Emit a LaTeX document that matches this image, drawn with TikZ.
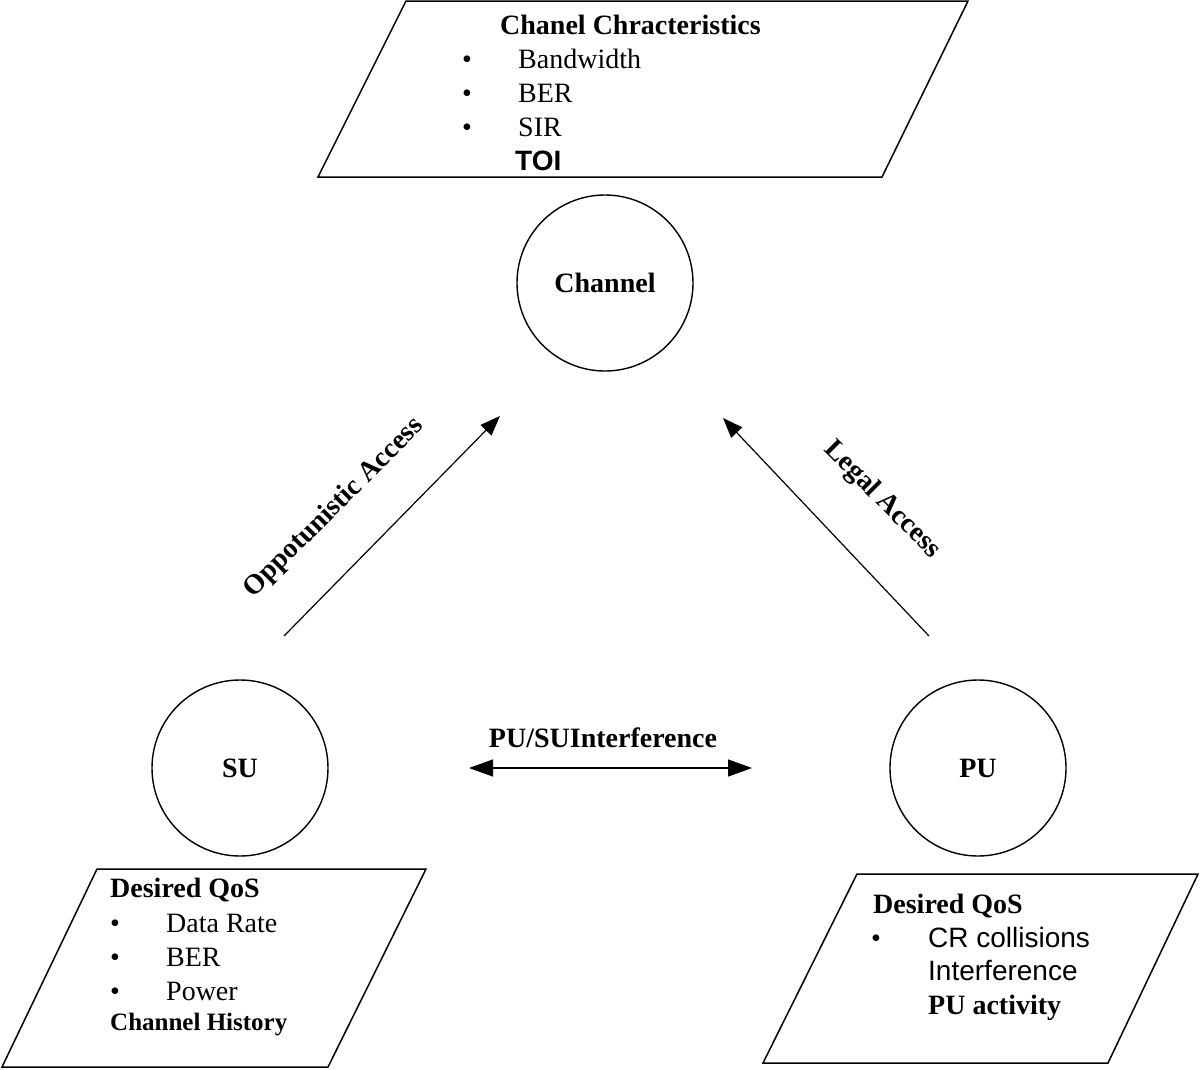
\documentclass[tikz,border=0pt]{standalone}
\usepackage{fontspec}
\setmainfont{Liberation Serif}
\setsansfont{Liberation Sans}
\usetikzlibrary{arrows.meta, positioning}
\newcommand{\txtsize}{\fontsize{28}{34}\selectfont}
\newcommand{\smallsize}{\fontsize{25}{30}\selectfont}
\tikzset{
  unit/.style={draw, circle, minimum size=176pt, inner sep=0pt, line width=1.4pt, font=\txtsize\bfseries},
  acc/.style={line width=1.2pt, -{Triangle[length=20pt,width=15pt]}},
  both/.style={line width=1.2pt, {Triangle[length=24pt,width=17pt]}-{Triangle[length=24pt,width=17pt]}},
  box/.style={line width=1.5pt, line join=miter},
  txt/.style={anchor=base west, inner sep=0pt, font=\txtsize},
  hd/.style={txt, font=\txtsize\bfseries},
  sf/.style={txt, font=\txtsize\sffamily},
  lbl/.style={inner sep=0pt, font=\txtsize\bfseries},
}
\begin{document}
\begin{tikzpicture}[x=1pt,y=-1pt]
	\useasboundingbox (0,0) rectangle (1200,1069);

	%channel characteristics:
	\draw[box] (406,1) -- (968,1) -- (882,177) -- (318,177) -- cycle;
	\node[hd] (cctitle) at (500,34) {Chanel Chracteristics};
	\node[txt] (ccdot1) at (462,68) {\textbullet};
	\node[txt] (ccbw) at (518,68) {Bandwidth};
	\node[txt] (ccdot2) at (462,102) {\textbullet};
	\node[txt] (ccber) at (518,102) {BER};
	\node[txt] (ccdot3) at (462,136) {\textbullet};
	\node[txt] (ccsir) at (518,136) {SIR};
	\node[sf, font=\txtsize\sffamily\bfseries] (cctoi) at (515,170) {TOI};

	%nodes:
	\node[unit] (channel) at (605,283) {Channel};
	\node[unit] (su) at (240,768) {SU};
	\node[unit] (pu) at (978,768) {PU};

	%access arrows:
	\coordinate (oa-s) at (284,636);
	\coordinate (oa-e) at (500,416);
	\draw[acc] (oa-s) -- (oa-e);
	\node[lbl, rotate=45] (oalbl) at (334,508) {Oppotunistic Access};

	\coordinate (la-s) at (929,636);
	\coordinate (la-e) at (723,418);
	\draw[acc] (la-s) -- (la-e);
	\node[lbl, rotate=-45] (lalbl) at (882,500) {Legal Access};

	%interference:
	\coordinate (if-w) at (469,768);
	\coordinate (if-e) at (752,768);
	\draw[both] (if-w) -- (if-e);
	\node[lbl] (iflbl) at (603,738) {PU/SUInterference};

	%su qos:
	\draw[box] (97,869) -- (426,869) -- (328,1067) -- (2,1067) -- cycle;
	\node[hd] (suqos) at (110,897) {Desired QoS};
	\node[txt] (sudot1) at (110,932) {\textbullet};
	\node[txt] (surate) at (166,932) {Data Rate};
	\node[txt] (sudot2) at (110,966) {\textbullet};
	\node[txt] (suber) at (166,966) {BER};
	\node[txt] (sudot3) at (110,1000) {\textbullet};
	\node[txt] (supow) at (166,1000) {Power};
	\node[hd, font=\smallsize\bfseries] (suhist) at (110,1030) {Channel History};

	%pu qos:
	\draw[box] (857,874) -- (1198,874) -- (1108,1063) -- (763,1063) -- cycle;
	\node[hd] (puqos) at (873,913) {Desired QoS};
	\node[txt] (pudot1) at (871,947) {\textbullet};
	\node[sf] (pucr) at (928,947) {CR collisions};
	\node[sf] (puint) at (928,980) {Interference};
	\node[hd] (puact) at (928,1014) {PU activity};
\end{tikzpicture}
\end{document}
